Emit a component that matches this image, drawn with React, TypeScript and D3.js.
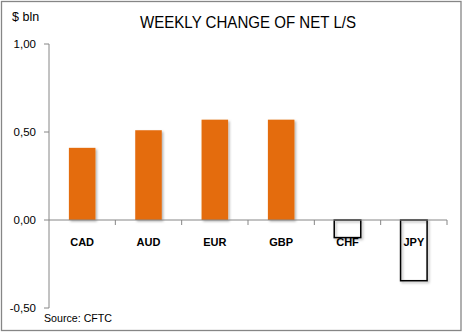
import React from "react";
import * as d3 from "d3";

const categories = ["CAD", "AUD", "EUR", "GBP", "CHF", "JPY"];
const values = [0.41, 0.51, 0.57, 0.57, -0.1, -0.345];
const yTicks = [-0.5, 0, 0.5, 1.0];
const title = "WEEKLY CHANGE OF NET L/S";
const unitLabel = "$ bln";
const sourceLabel = "Source: CFTC";

const W = 463;
const H = 333;
const plotLeft = 49;
const plotRight = 447;
const plotTop = 44;
const plotBottom = 308;
const font = "'Liberation Sans', Arial, sans-serif";

export default function App() {
  const x = d3
    .scaleBand<string>()
    .domain(categories)
    .range([plotLeft, plotRight])
    .paddingInner(0.6)
    .paddingOuter(0.3);
  const band = (plotRight - plotLeft) / categories.length;
  const y = d3.scaleLinear().domain([-0.5, 1]).range([plotBottom, plotTop]);
  const y0 = y(0);
  const fmt = (v: number) => d3.format(".2f")(v).replace(".", ",").replace("−", "-");
  const orange = "#E46C0A";
  const axisColor = "#868686";

  return (
    <svg
      width={W}
      height={H}
      style={{ position: "absolute", left: 0, top: 0, background: "#fff" }}
      fontFamily={font}
    >
      <defs>
        <filter id="shadow" x="-20%" y="-20%" width="150%" height="150%">
          <feDropShadow dx="1.5" dy="1.5" stdDeviation="1.2" floodColor="#000" floodOpacity="0.3" />
        </filter>
      </defs>
      <rect x={1.5} y={1.5} width={459.5} height={329} fill="#fff" stroke={axisColor} strokeWidth={1.3} />

      <text x={248} y={28} textAnchor="middle" fontSize={17} textLength={216} lengthAdjust="spacingAndGlyphs" fill="#000">
        {title}
      </text>
      <text x={12} y={21} fontSize={12.5} fill="#000">
        {unitLabel}
      </text>

      {categories.map((c) => (
        <text
          key={c}
          x={(x(c) as number) + x.bandwidth() / 2}
          y={246}
          textAnchor="middle"
          fontSize={11}
          fontWeight="bold"
          fill="#000"
        >
          {c}
        </text>
      ))}

      {categories.map((c, i) => {
        const v = values[i];
        const bx = x(c) as number;
        const top = v >= 0 ? y(v) : y0;
        const h = Math.abs(y(v) - y0);
        return v >= 0 ? (
          <rect key={c} x={bx} y={top} width={x.bandwidth()} height={h} fill={orange} filter="url(#shadow)" />
        ) : (
          <rect
            key={c}
            x={bx}
            y={top}
            width={x.bandwidth()}
            height={h}
            fill="none"
            stroke="#000"
            strokeWidth={1.5}
            filter="url(#shadow)"
          />
        );
      })}

      <line x1={plotLeft} x2={plotLeft} y1={plotTop} y2={plotBottom} stroke={axisColor} strokeWidth={1} />
      {yTicks.map((t) => (
        <g key={t}>
          <line x1={plotLeft - 5} x2={plotLeft} y1={y(t)} y2={y(t)} stroke={axisColor} strokeWidth={1} />
          <text x={36} y={y(t) + 4} textAnchor="end" fontSize={11.5} fill="#000">
            {fmt(t)}
          </text>
        </g>
      ))}

      <line x1={plotLeft} x2={plotRight} y1={y0} y2={y0} stroke={axisColor} strokeWidth={1} />
      {categories.map((c, i) => (
        <line
          key={c}
          x1={plotLeft + band * (i + 1)}
          x2={plotLeft + band * (i + 1)}
          y1={y0}
          y2={y0 + 5}
          stroke={axisColor}
          strokeWidth={1}
        />
      ))}

      <text x={44} y={322} fontSize={11} textLength={68} lengthAdjust="spacingAndGlyphs" fill="#000">
        {sourceLabel}
      </text>
    </svg>
  );
}
